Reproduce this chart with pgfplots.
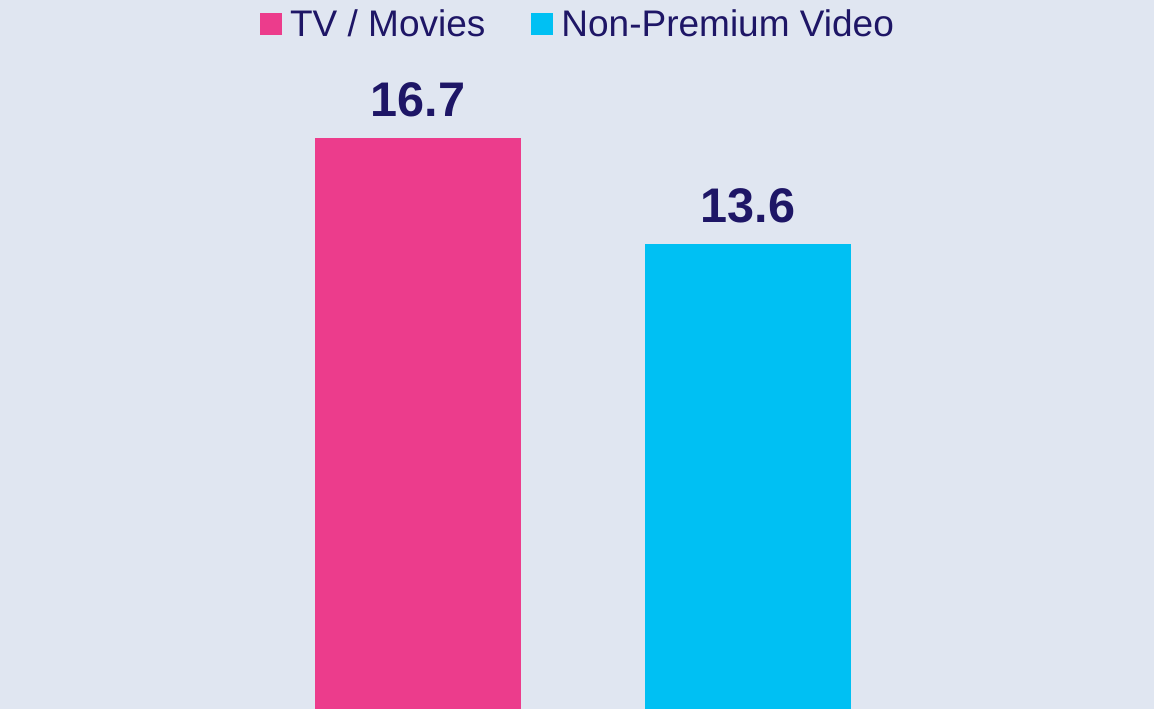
\documentclass[border=0pt]{standalone}
\usepackage{pgfplots}
\pgfplotsset{compat=1.18}
\usepackage{fontspec}
\setmainfont{Liberation Sans}
\definecolor{bgc}{HTML}{E0E6F1}
\definecolor{pinkc}{HTML}{EC3C8C}
\definecolor{cyanc}{HTML}{00C0F3}
\definecolor{navyc}{HTML}{1E1666}
\begin{document}
\begin{tikzpicture}
\begin{axis}[
  scale only axis,
  width=577pt, height=354.5pt,
  xmin=0, xmax=1154, ymin=0, ymax=20.73,
  axis background/.style={fill=bgc},
  axis line style={draw=none},
  xtick=\empty, ytick=\empty,
  ybar, bar width=103pt, bar shift=0pt,
  nodes near coords,
  nodes near coords style={font=\fontsize{24.3}{28}\selectfont\bfseries, text=navyc, anchor=base, inner sep=0pt, yshift=10.5pt},
  /pgf/number format/.cd, fixed, fixed zerofill, precision=1, assume math mode=true, /pgfplots/.cd,
  legend style={draw=none, fill=none, at={(0.5,1)}, anchor=north, yshift=-0.5pt, xshift=1pt,
    font=\fontsize{18.5}{20}\selectfont, text=navyc, legend columns=2,
    /tikz/every even column/.append style={column sep=21pt},
    /tikz/every odd column/.append style={column sep=0pt}},
  legend image code/.code={\fill[#1,draw=none] (0pt,-5.5pt) rectangle (11pt,5.5pt); \path (13pt,0pt);},
]
\addplot[fill=pinkc, draw=none] coordinates {(418,16.7)};
\addlegendentry{TV / Movies}
\addplot[fill=cyanc, draw=none] coordinates {(748,13.6)};
\addlegendentry{Non-Premium Video}
\end{axis}
\end{tikzpicture}
\end{document}
